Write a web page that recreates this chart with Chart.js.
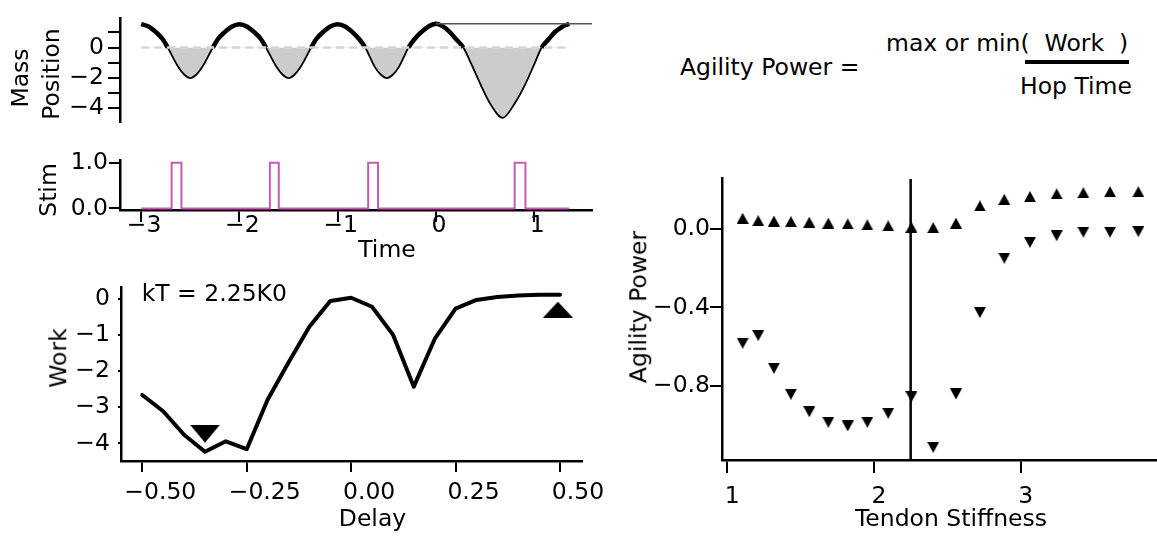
<!DOCTYPE html>
<html><head><meta charset="utf-8">
<script src="https://cdn.jsdelivr.net/npm/chart.js@4.4.1/dist/chart.umd.min.js"></script>
<style>
html,body{margin:0;padding:0;background:#fff;}
#root{position:relative;width:1157px;height:536px;overflow:hidden;background:#fff;}
.box{position:absolute;}
.box canvas{display:block;}
.t{position:absolute;font-family:'DejaVu Sans';line-height:1;white-space:pre;color:#000;}
.rot{transform:translate(-50%,-50%) rotate(-90deg);}
.ctr{transform:translateX(-50%);}
</style></head><body><div id="root">
<div class="box" style="left:0;top:0"><canvas id="cMass" width="600" height="140"></canvas></div>
<div class="box" style="left:0;top:140px"><canvas id="cStim" width="600" height="110"></canvas></div>
<div class="box" style="left:0;top:265px"><canvas id="cWork" width="620" height="271"></canvas></div>
<div class="box" style="left:600px;top:160px"><canvas id="cAgil" width="557" height="376"></canvas></div>

<div class="t rot" style="left:20.7px;top:78px;font-size:23.5px">Mass</div>
<div class="t rot" style="left:52.3px;top:74px;font-size:23.5px">Position</div>
<div class="t rot" style="left:48.9px;top:190px;font-size:23.5px">Stim</div>
<div class="t ctr" style="left:387px;top:238.2px;font-size:23.5px">Time</div>
<div class="t rot" style="left:59.4px;top:358px;font-size:23.5px">Work</div>
<div class="t ctr" style="left:372.5px;top:507.2px;font-size:23.5px">Delay</div>
<div class="t" style="left:141.7px;top:281.5px;font-size:23.5px">kT = 2.25K0</div>
<div class="t rot" style="left:638.9px;top:306.7px;font-size:23.5px">Agility Power</div>
<div class="t ctr" style="left:951px;top:507.2px;font-size:23.5px">Tendon Stiffness</div>

<div class="t" style="left:680px;top:56.2px;font-size:23.5px">Agility Power =</div>
<div class="t" style="left:886px;top:32.1px;font-size:23.5px">max or min(  Work  )</div>
<div style="position:absolute;left:1025px;top:59.5px;width:104px;height:4.5px;background:#000"></div>
<div class="t ctr" style="left:1076px;top:75.2px;font-size:23.5px">Hop Time</div>
</div>
<script>
// ---------- data ----------
const massTime = [-3.00,-2.92,-2.85,-2.78,-2.73,-2.62,-2.56,-2.50,-2.44,-2.38,-2.27,-2.22,-2.15,-2.08,
  -2.00,-1.92,-1.85,-1.78,-1.73,-1.62,-1.56,-1.50,-1.44,-1.38,-1.27,-1.22,-1.15,-1.08,
  -1.00,-0.92,-0.85,-0.78,-0.72,-0.62,-0.56,-0.50,-0.44,-0.38,-0.28,-0.22,-0.15,-0.08,
  0.00,0.07,0.14,0.20,0.278,0.36,0.45,0.55,0.678,0.80,0.91,1.00,1.075,1.15,1.21,1.29,1.356];
const massPos = [1.55,1.38,1.02,0.55,0.00,-1.31,-1.80,-2.02,-1.80,-1.31,0.00,0.55,1.02,1.38,
  1.55,1.38,1.02,0.55,0.00,-1.31,-1.80,-2.02,-1.80,-1.31,0.00,0.55,1.02,1.38,
  1.55,1.38,1.02,0.55,0.00,-1.31,-1.80,-2.02,-1.80,-1.31,0.00,0.55,1.02,1.38,
  1.57,1.40,1.03,0.58,0.00,-1.10,-2.40,-3.70,-4.65,-3.70,-2.40,-1.10,0.00,0.58,1.03,1.40,1.57];
const zeroLineTime = [-3.00, 1.356];
const zeroLineLevel = 0;
const peakLineTime = [0.00, 1.587];
const peakLineLevel = 1.57;
const massTicks = [-4,-3,-2,-1,0,1];
const massTickLabels = ['\u22124','','\u22122','','0',''];

const stimTime = [-3.00,-2.69,-2.59,-1.69,-1.60,-0.69,-0.59,0.80,0.91,1.356];
const stimValue = [0,1,0,1,0,1,0,1,0,0];
const stimTicks = [0,1];
const stimTickLabels = ['0.0','1.0'];
const timeTicks = [-3,-2,-1,0,1];
const timeTickLabels = ['\u22123','\u22122','\u22121','0','1'];

const delay = [-0.50,-0.45,-0.40,-0.35,-0.30,-0.25,-0.20,-0.15,-0.10,-0.05,0.00,0.05,0.10,0.15,0.20,0.25,0.30,0.35,0.40,0.45,0.50];
const work = [-2.66,-3.11,-3.76,-4.23,-3.94,-4.16,-2.79,-1.76,-0.77,-0.06,0.03,-0.22,-0.99,-2.43,-1.11,-0.27,-0.03,0.05,0.09,0.11,0.11];
const workMaxMarker = [0.495, -0.30];
const workMinMarker = [-0.35, -3.73];
const delayTicks = [-0.5,-0.25,0,0.25,0.5];
const delayTickLabels = ['\u22120.50','\u22120.25','0.00','0.25','0.50'];
const workTicks = [-4,-3,-2,-1,0];
const workTickLabels = ['\u22124','\u22123','\u22122','\u22121','0'];

const stiffness = [1.105,1.211,1.318,1.434,1.559,1.689,1.821,1.955,2.097,2.255,2.404,2.559,2.722,2.888,3.063,3.245,3.427,3.609,3.802];
const agilityMax = [0.056,0.044,0.042,0.039,0.036,0.031,0.027,0.022,0.017,0.010,0.008,0.031,0.119,0.153,0.167,0.181,0.187,0.192,0.192];
const agilityMin = [-0.583,-0.544,-0.711,-0.844,-0.933,-0.987,-1.006,-0.987,-0.941,-0.856,-1.115,-0.842,-0.426,-0.148,-0.067,-0.033,-0.015,-0.015,-0.012];
const kT = 2.25;
const stiffTicks = [1,2,3];
const stiffTickLabels = ['1','2','3'];
const agilTicks = [-0.8,-0.4,0];
const agilTickLabels = ['\u22120.8','\u22120.4','0.0'];

// ---------- setup ----------
Chart.defaults.font.family = "'DejaVu Sans'";
Chart.defaults.font.size = 23.5;
Chart.defaults.color = '#000';
Chart.defaults.animation = false;
Chart.defaults.plugins.legend.display = false;
Chart.defaults.plugins.tooltip.enabled = false;
Chart.defaults.elements.point.radius = 0;

function tri(w, h, up) {
  const c = document.createElement('canvas');
  c.width = w; c.height = h;
  const g = c.getContext('2d');
  g.fillStyle = '#000';
  g.beginPath();
  if (up) { g.moveTo(w/2, 0); g.lineTo(w, h); g.lineTo(0, h); }
  else { g.moveTo(0, 0); g.lineTo(w, 0); g.lineTo(w/2, h); }
  g.closePath(); g.fill();
  return c;
}
function pts(xs, ys) { return xs.map((x, i) => ({x: x, y: ys[i]})); }
function flat(xs, level) { return xs.map(x => ({x: x, y: level})); }
function axis(o) {
  return {
    type: 'linear', min: o.min, max: o.max, display: o.display !== false,
    afterFit: s => { if (o.w !== undefined) s.width = o.w; if (o.h !== undefined) s.height = o.h; },
    afterBuildTicks: s => { if (o.ticks) s.ticks = o.ticks.map(v => ({value: v})); },
    ticks: { autoSkip: false, maxRotation: 0, minRotation: 0, padding: o.pad || 0, labelOffset: o.off || 0,
      callback: v => { const i = o.ticks.indexOf(v); return i < 0 ? '' : o.labels[i]; } },
    grid: { drawOnChartArea: false, drawTicks: true, tickLength: o.tl, color: '#000', lineWidth: 2 },
    border: { display: true, color: '#000', width: 2.5 }
  };
}

// Mass position
new Chart(document.getElementById('cMass'), {
  type: 'line',
  data: { datasets: [
    { data: flat(zeroLineTime, zeroLineLevel), borderColor: '#d6d6d6', borderWidth: 2.5, borderDash: [8,5], order: 0 },
    { data: flat(peakLineTime, peakLineLevel), borderColor: '#555', borderWidth: 1.5, order: 0 },
    { data: pts(massTime, massPos), borderColor: '#000', borderWidth: 1.8, cubicInterpolationMode: 'monotone',
      fill: { target: 'origin', above: 'rgba(0,0,0,0)', below: '#cccccc' },
      segment: { borderWidth: c => (c.p0.parsed.y >= 0 && c.p1.parsed.y >= 0) ? 4.5 : 1.8 },
      order: 1 }
  ]},
  options: { responsive: false, clip: false,
    layout: { padding: { left: 0, top: 8, right: 8, bottom: 5 }, autoPadding: false },
    scales: {
      x: { type: 'linear', min: -3.215, max: 1.587, display: false },
      y: axis({ min: -4.92, max: 1.95, w: 120, ticks: massTicks, labels: massTickLabels, pad: 4, tl: 12 })
    } }
});

// Stim
new Chart(document.getElementById('cStim'), {
  type: 'line',
  data: { datasets: [
    { data: pts(stimTime, stimValue), stepped: true, borderColor: '#c55bb4', borderWidth: 2 }
  ]},
  options: { responsive: false,
    layout: { padding: { left: 0, top: 20, right: 8, bottom: 0 }, autoPadding: false },
    scales: {
      x: axis({ min: -3.215, max: 1.587, h: 40, ticks: timeTicks, labels: timeTickLabels, pad: -10, off: 3, tl: 12 }),
      y: axis({ min: -0.035, max: 1.06, w: 120, ticks: stimTicks, labels: stimTickLabels, pad: 1, tl: 11 })
    } }
});

// Work vs delay
new Chart(document.getElementById('cWork'), {
  type: 'line',
  data: { datasets: [
    { data: pts(delay, work), borderColor: '#000', borderWidth: 4, borderJoinStyle: 'round', borderCapStyle: 'round', tension: 0 },
    { data: [{x: workMaxMarker[0], y: workMaxMarker[1]}], showLine: false, pointRadius: 5, pointStyle: tri(30, 16, true) },
    { data: [{x: workMinMarker[0], y: workMinMarker[1]}], showLine: false, pointRadius: 5, pointStyle: tri(30, 18, false) }
  ]},
  options: { responsive: false, clip: false,
    layout: { padding: { left: 0, top: 18, right: 38.3, bottom: 25 }, autoPadding: false },
    scales: {
      x: axis({ min: -0.551, max: 0.552, h: 50, ticks: delayTicks, labels: delayTickLabels, pad: 7, off: 18, tl: 11 }),
      y: axis({ min: -4.486, max: 0.324, w: 121, ticks: workTicks, labels: workTickLabels, pad: 8, tl: 3 })
    } }
});

// Agility power vs tendon stiffness
new Chart(document.getElementById('cAgil'), {
  type: 'scatter',
  data: { datasets: [
    { data: pts(stiffness, agilityMax), pointRadius: 5, pointStyle: tri(12, 11, true) },
    { data: pts(stiffness, agilityMin), pointRadius: 5, pointStyle: tri(12, 11, false) },
    { data: [{x: kT, y: -1.18}, {x: kT, y: 0.257}], showLine: true, pointRadius: 0, borderColor: '#000', borderWidth: 2.5 }
  ]},
  options: { responsive: false, clip: false,
    layout: { padding: { left: 0, top: 18, right: 0, bottom: 26 }, autoPadding: false },
    scales: {
      x: axis({ min: 0.969, max: 3.929, h: 50, ticks: stiffTicks, labels: stiffTickLabels, pad: 9.7, off: 5, tl: 13 }),
      y: axis({ min: -1.18, max: 0.262, w: 122.7, ticks: agilTicks, labels: agilTickLabels, pad: 0, tl: 12.7 })
    } }
});
</script>
</body></html>
